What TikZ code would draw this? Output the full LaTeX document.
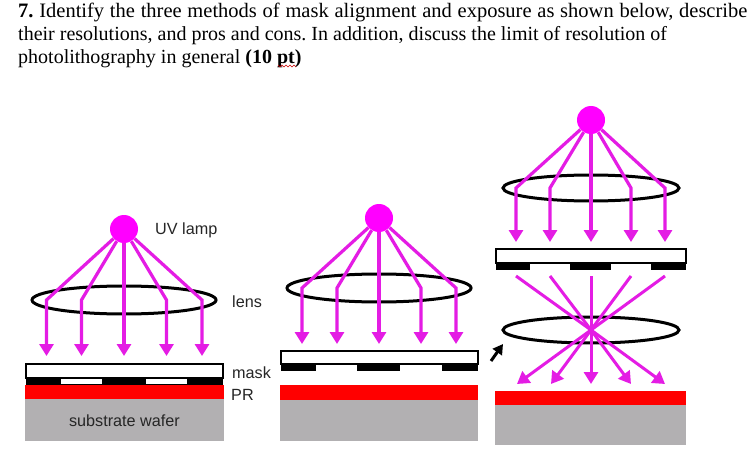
\documentclass[tikz,border=0pt]{standalone}
\usepackage{fontspec}
\setmainfont{Liberation Serif}
\newfontfamily\labelfont{Liberation Sans}
\usetikzlibrary{arrows.meta}
\definecolor{uvm}{HTML}{E41CE4}
\definecolor{lampm}{HTML}{FF00FF}
\definecolor{prred}{HTML}{FF0000}
\definecolor{wafer}{HTML}{B2B0B2}
\tikzset{
 x=1pt,y=-1pt,
 qtext/.style={anchor=base west,inner sep=0pt,font=\fontsize{20}{23}\selectfont\frenchspacing},
 qtextwide/.style={anchor=base west,inner sep=0pt,font=\fontsize{20.5}{23}\selectfont\frenchspacing},
 lbl/.style={inner sep=0pt,font=\labelfont\fontsize{16.2}{19}\selectfont,text=black!85},
 lamp/.style={circle,fill=lampm,draw=none,minimum size=28pt,inner sep=0pt},
 lensring/.style={draw=black,line width=3pt,fill=none},
 ray/.style={draw=uvm,line width=3.2pt,line join=miter},
 rayarrow/.style={ray,-{Triangle[length=12pt,width=14pt,fill=uvm]}},
 xray/.style={draw=uvm,line width=3pt},
 xarrow/.style={xray,-{Triangle[length=12pt,width=14pt,fill=uvm]}},
 glass/.style={draw=black,line width=1.4pt,fill=white},
 chrome/.style={fill=black,draw=none},
 pr/.style={fill=prred,draw=none},
 sub/.style={fill=wafer,draw=none},
}
\begin{document}
\begin{tikzpicture}
\useasboundingbox (0,0) rectangle (750,476);
\fill[white] (0,0) rectangle (750,476);
% question text
\node[qtextwide] (q1) at (18,17.5) {\spaceskip=5.75pt plus 0pt minus 0pt \textbf{7.} Identify the three methods of mask alignment and exposure as shown below, describe};
\node[qtext] (q2) at (18,40.5) {their resolutions, and pros and cons. In addition, discuss the limit of resolution of};
\node[qtext] (q3) at (18,63.5) {photolithography in general \textbf{(10 pt)}};
\draw[red!80!black,line width=0.7pt] (278,65) -- (280,67) -- (282,65) -- (284,67) -- (286,65) -- (288,67) -- (290,65) -- (292,67) -- (294,65) -- (296,67);

% LEFT: contact
\node[lamp] (lampA) at (124,229) {};
\draw[lensring] (124,300) ellipse [x radius=92,y radius=14];
\foreach \kx/\tn in {46.5/a,81.5/b,124/c,166.5/d,202/e}{
  \coordinate (Ak\tn) at (\kx,300);
  \coordinate (At\tn) at (\kx,356);
  \draw[rayarrow] (lampA) -- (Ak\tn) -- (At\tn);
}
\draw[sub] (25,399) rectangle (224,441);
\draw[pr] (25,385) rectangle (224,399);
\draw[chrome] (26,378) rectangle (223,385);
\draw[fill=white,draw=none] (61,378.5) rectangle (102,384);
\draw[fill=white,draw=none] (146,378.5) rectangle (187,384);
\draw[glass] (26,364) rectangle (223,378);
\node[lbl,anchor=west] (uv) at (155,230.5) {UV lamp};
\node[lbl,anchor=west] (lensl) at (232,301.5) {lens};
\node[lbl,anchor=west] (maskl) at (232,372.5) {mask};
\node[lbl,anchor=west] (prl) at (231,394.5) {PR};
\node[lbl] (subl) at (124.5,421) {substrate wafer};

% MIDDLE: proximity
\node[lamp] (lampB) at (379,218) {};
\draw[lensring] (379,288) ellipse [x radius=92,y radius=14];
\foreach \kx/\tn in {302/a,337/b,379/c,421/d,456/e}{
  \coordinate (Bk\tn) at (\kx,288);
  \coordinate (Bt\tn) at (\kx,344);
  \draw[rayarrow] (lampB) -- (Bk\tn) -- (Bt\tn);
}
\draw[sub] (280,399) rectangle (478,441);
\draw[pr] (280,385) rectangle (478,399.5);
\draw[glass] (281,351) rectangle (478,364);
\draw[chrome] (280.5,364) rectangle (316,371);
\draw[chrome] (357,364) rectangle (400,371);
\draw[chrome] (442,364) rectangle (477.5,371);

% RIGHT: projection
\node[lamp] (lampC) at (591,120) {};
\draw[lensring] (591,188) ellipse [x radius=88,y radius=13];
\foreach \kx/\tn in {516/a,550/b,591/c,631/d,665/e}{
  \coordinate (Ck\tn) at (\kx,188);
  \coordinate (Ct\tn) at (\kx,242);
  \draw[rayarrow] (lampC) -- (Ck\tn) -- (Ct\tn);
}
\draw[glass] (496,249) rectangle (686,263);
\draw[chrome] (495.5,263) rectangle (530,269.5);
\draw[chrome] (570,263) rectangle (611,269.5);
\draw[chrome] (651,263) rectangle (686,269.5);
\draw[lensring] (591,330) ellipse [x radius=88,y radius=13];
\coordinate (focus) at (591,330);
\foreach \sx/\ex/\tn in {516/517/a,550/551/b,591/591/c,631/631/d,665/665/e}{
  \coordinate (Cs\tn) at (\sx,276);
  \coordinate (Ce\tn) at (\ex,384);
  \draw[xray] (Cs\tn) -- (focus);
  \draw[xarrow] (focus) -- (Ce\tn);
}
\draw[sub] (495,405) rectangle (686,445);
\draw[pr] (495,391) rectangle (686,405);
% small stray arrow
\coordinate (sa) at (491,361);
\coordinate (sb) at (503,344);
\draw[black,line width=3pt,-{Triangle[length=10pt,width=11pt]}] (sa) -- (sb);
\end{tikzpicture}
\end{document}
